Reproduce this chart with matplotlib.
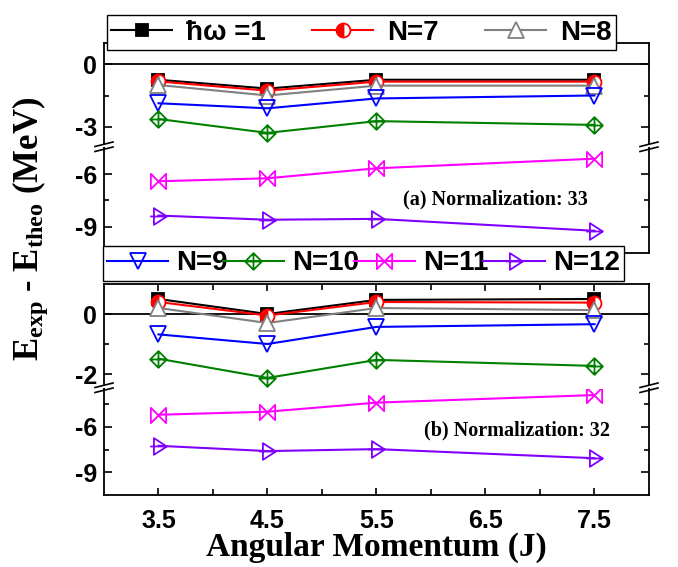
import matplotlib
matplotlib.use('Agg')
import matplotlib.pyplot as plt
from matplotlib.path import Path
from matplotlib.lines import Line2D
from matplotlib.patches import Polygon

plt.rcParams['font.family'] = 'Liberation Sans'
plt.rcParams['font.weight'] = 'bold'
plt.rcParams['axes.unicode_minus'] = False
plt.rcParams['mathtext.fontset'] = 'custom'
plt.rcParams['mathtext.rm'] = 'Liberation Serif:bold'
plt.rcParams['mathtext.bf'] = 'Liberation Serif:bold'
plt.rcParams['mathtext.it'] = 'Liberation Serif:bold'

# angular momentum values
J = [3.5, 4.5, 5.5, 7.5]

labels = ['ħω =1', 'N=7', 'N=8', 'N=9', 'N=10', 'N=11', 'N=12']

# (a) normalization 33
a_hw1 = [-0.75, -1.17, -0.75, -0.75]
a_n7 = [-0.83, -1.27, -0.84, -0.84]
a_n8 = [-1.00, -1.50, -1.03, -1.03]
a_n9 = [-1.87, -2.11, -1.64, -1.50]
a_n10 = [-2.62, -3.28, -2.72, -2.90]
a_n11 = [-6.40, -6.23, -5.66, -5.11]
a_n12 = [-8.36, -8.60, -8.55, -9.23]

# (b) normalization 32
b_hw1 = [0.50, 0.00, 0.47, 0.50]
b_n7 = [0.40, -0.05, 0.40, 0.38]
b_n8 = [0.20, -0.30, 0.20, 0.13]
b_n9 = [-0.68, -1.00, -0.43, -0.34]
b_n10 = [-1.49, -2.13, -1.53, -1.73]
b_n11 = [-5.20, -5.00, -4.40, -3.90]
b_n12 = [-7.25, -7.60, -7.47, -8.07]

M, L, C = Path.MOVETO, Path.LINETO, Path.CLOSEPOLY
diam_plus = Path([(0, 1), (1, 0), (0, -1), (-1, 0), (0, 1), (0, 1), (0, -1), (-1, 0), (1, 0)],
                 [M, L, L, L, C, M, L, M, L])
bowtie = Path([(-1, -1), (1, 1), (1, -1), (-1, 1), (-1, -1)], [M, L, L, L, C])
tri_r = Path([(-0.55, 1), (1, 0), (-0.55, -1), (-0.55, 1), (-1, 0), (1, 0)],
             [M, L, L, C, M, L])

styles = [
    dict(color='black', marker='s', ms=8.5, mfc='black'),
    dict(color='red', marker='o', ms=10, mfc='red', mfcalt='white', fillstyle='left'),
    dict(color='gray', marker='^', ms=11, mfc='white'),
    dict(color='blue', marker='v', ms=11, mfc='none'),
    dict(color='green', marker=diam_plus, ms=12, mfc='none'),
    dict(color='magenta', marker=bowtie, ms=11, mfc='none'),
    dict(color='#8000ff', marker=tri_r, ms=12, mfc='none'),
]

fig = plt.figure(figsize=(6.78, 5.67), dpi=100)
W, H = 678.0, 567.0
x0, x1 = 104, 649


def fy(py):
    return 1 - py / H


def make_ax(ptop, pbot, ylim, major, minor, top_edge, bottom_edge, xlabels=False):
    ax = fig.add_axes([x0 / W, fy(pbot), (x1 - x0) / W, (pbot - ptop) / H])
    ax.set_xlim(3, 8)
    ax.set_ylim(*ylim)
    ax.set_xticks([3.5, 4.5, 5.5, 6.5, 7.5])
    ax.set_xticks([4, 5, 6, 7], minor=True)
    ax.set_yticks(major)
    ax.set_yticks(minor, minor=True)
    ax.yaxis.set_major_formatter(plt.FuncFormatter(lambda v, p: '%g' % v))
    ax.tick_params(which='both', direction='in', left=True, right=True,
                   top=top_edge, bottom=bottom_edge, labelsize=18, width=1.2)
    ax.tick_params(axis='y', which='major', length=6, pad=5)
    ax.tick_params(axis='y', which='minor', length=3.5)
    ax.tick_params(axis='x', which='major', length=5, pad=10)
    ax.tick_params(axis='x', which='minor', length=4)
    ax.tick_params(axis='x', labelbottom=xlabels)
    ax.spines['top'].set_visible(top_edge)
    ax.spines['bottom'].set_visible(bottom_edge)
    for s in ax.spines.values():
        s.set_linewidth(1.3)
    return ax


def breakmark(py):
    # white gap plus two slanted strokes across left and right spines
    for px in (x0, x1):
        gap = Polygon([((px - 8) / W, fy(py + 1)), ((px + 8) / W, fy(py - 3)),
                       ((px + 8) / W, fy(py - 6)), ((px - 8) / W, fy(py - 2))],
                      closed=True, transform=fig.transFigure, facecolor='white',
                      edgecolor='none', zorder=3)
        fig.add_artist(gap)
        for off in (2.5, -2.5):
            fig.add_artist(Line2D([(px - 9) / W, (px + 9) / W],
                                  [fy(py + off + 1), fy(py + off - 3.5)],
                                  transform=fig.transFigure, color='black',
                                  lw=1.2, zorder=4))


def draw(ax, series):
    hs = []
    for ys, st in zip(series, styles):
        st = dict(st)
        alt = st.pop('mfcalt', None)
        h, = ax.plot(J, ys, lw=1.5, mew=1.3, mec=st['color'], **st)
        if alt:
            h.set_markerfacecoloralt(alt)
        hs.append(h)
    return hs


ser_a = [a_hw1, a_n7, a_n8, a_n9, a_n10, a_n11, a_n12]
ser_b = [b_hw1, b_n7, b_n8, b_n9, b_n10, b_n11, b_n12]

ax_a1 = make_ax(43, 148, (-4, 1), [0, -3], [-1.5], True, False)
ax_a2 = make_ax(148, 253, (-10.5, -4.5), [-6, -9], [-7.5], False, True)
ax_b1 = make_ax(284, 389, (-2.5, 1), [0, -2], [-1], True, False)
ax_b2 = make_ax(389, 495, (-10.5, -3.5), [-6, -9], [-4.5, -7.5], False, True, xlabels=True)

handles = draw(ax_a1, ser_a)
draw(ax_a2, ser_a)
draw(ax_b1, ser_b)
draw(ax_b2, ser_b)
for ax in (ax_a1, ax_b1):
    ax.axhline(0, color='black', lw=1.3, zorder=1)

breakmark(148)
breakmark(389)

ax_a2.text(0.888, 0.46, '(a) Normalization: 33', transform=ax_a2.transAxes, ha='right',
           va='baseline', family='Liberation Serif', fontsize=14.5, weight='bold')
ax_b2.text(0.928, 0.56, '(b) Normalization: 32', transform=ax_b2.transAxes, ha='right',
           va='baseline', family='Liberation Serif', fontsize=14.5, weight='bold')

fig.text(376 / W, fy(547), 'Angular Momentum (J)', ha='center', va='center',
         family='Liberation Serif', fontsize=24, weight='bold')
fig.text(30 / W, fy(229), r'$\mathbf{E}_{\mathbf{exp}}$ - $\mathbf{E}_{\mathbf{theo}}$ (MeV)',
         rotation=90, ha='center', va='center', family='Liberation Serif',
         fontsize=25, weight='bold')

legprops = dict(family='Liberation Sans', weight='bold', size=20)
leg1 = fig.legend(handles[:3], labels[:3], ncol=3, mode='expand', loc='center',
                  bbox_to_anchor=(107 / W, fy(53), 509 / W, 41 / H),
                  bbox_transform=fig.transFigure, fancybox=False, edgecolor='black',
                  framealpha=1, borderaxespad=0, prop=legprops, handlelength=2.2,
                  handletextpad=0.5, borderpad=0.15, columnspacing=0.5)
leg2 = fig.legend(handles[3:], labels[3:], ncol=4, mode='expand', loc='center',
                  bbox_to_anchor=(103 / W, fy(283), 521 / W, 39 / H),
                  bbox_transform=fig.transFigure, fancybox=False, edgecolor='black',
                  framealpha=1, borderaxespad=0, prop=legprops, handlelength=2.2,
                  handletextpad=0.3, borderpad=0.15, columnspacing=0.3)
for lg in (leg1, leg2):
    lg.get_frame().set_linewidth(1.0)

fig.savefig('out.png', dpi=100)
